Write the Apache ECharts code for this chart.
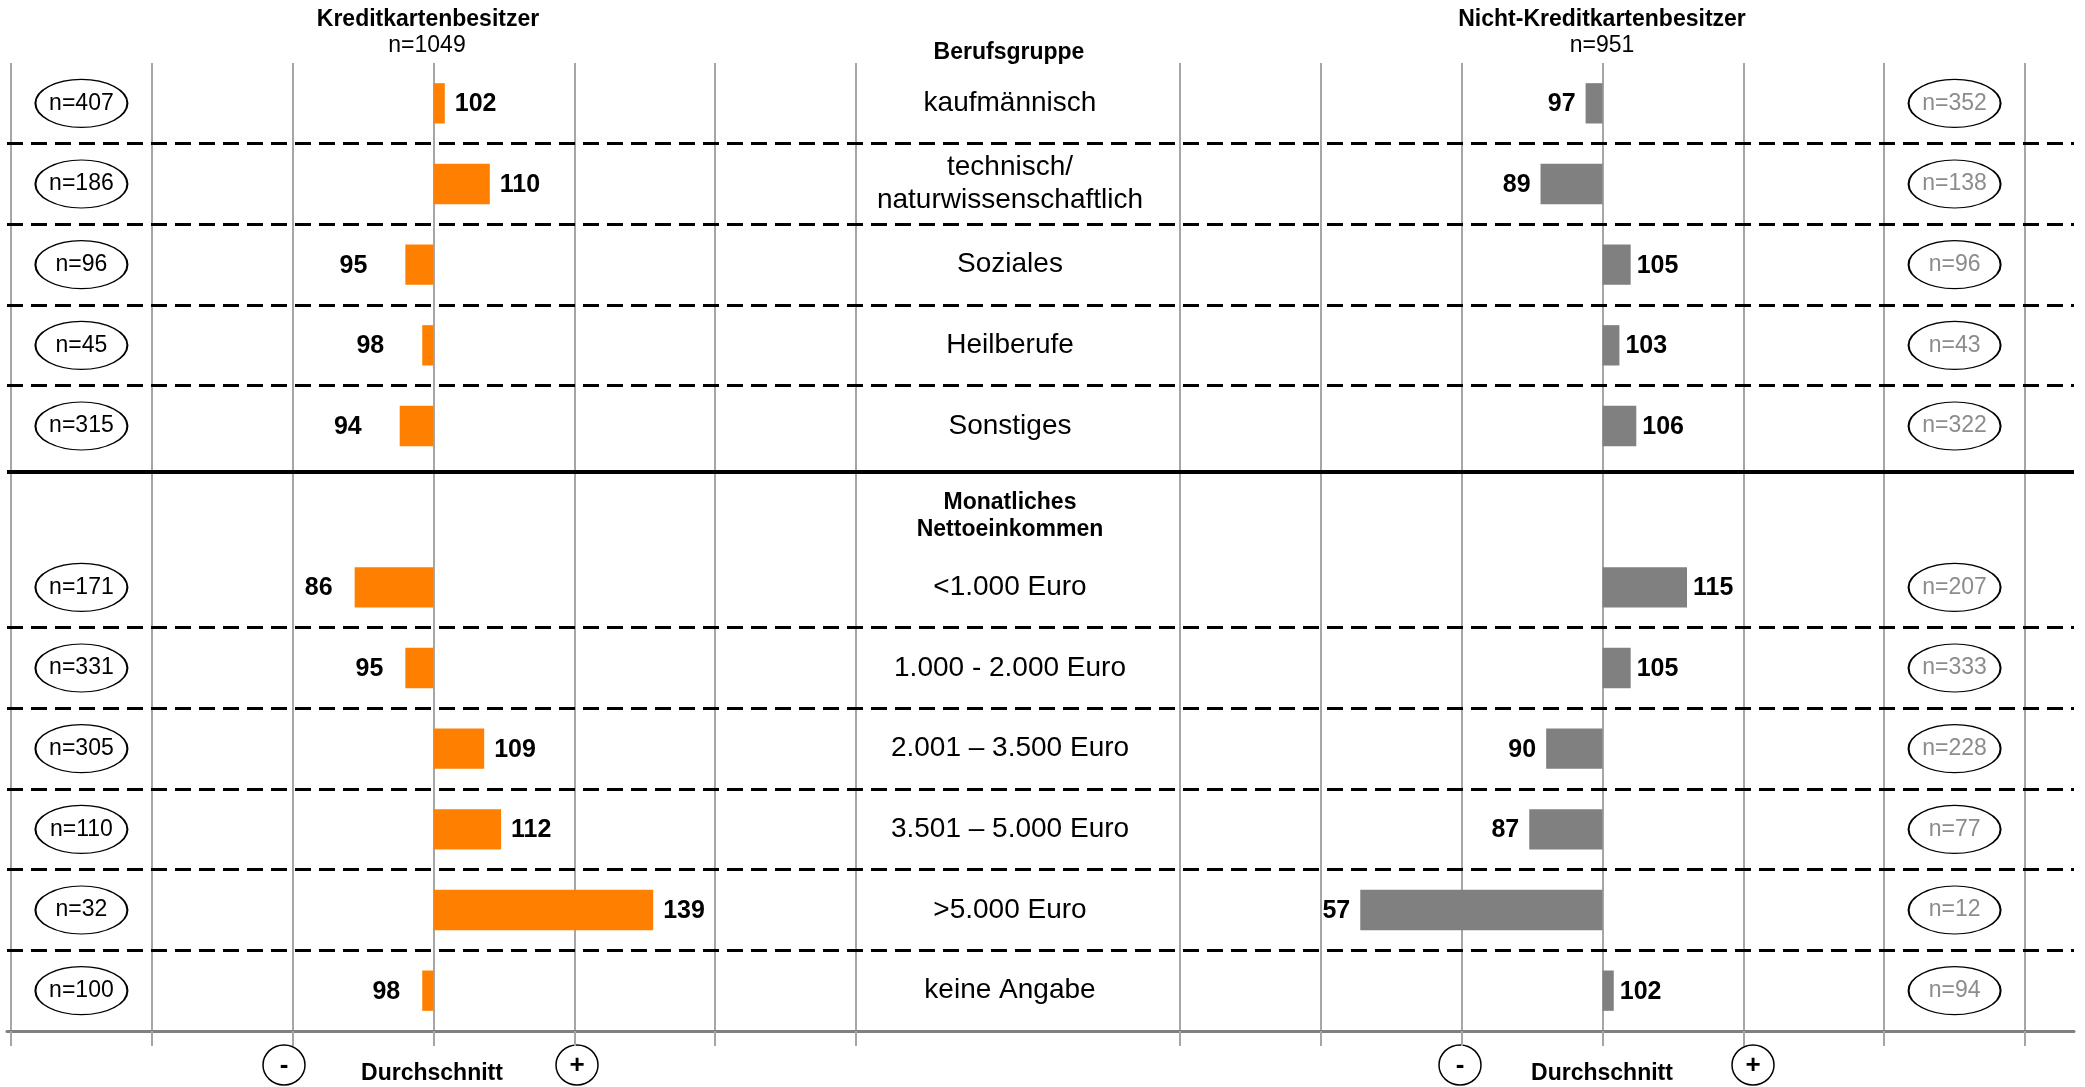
<!DOCTYPE html>
<html>
<head>
<meta charset="utf-8">
<title>Kreditkartenbesitzer – Berufsgruppe und Nettoeinkommen</title>
<script src="https://cdn.jsdelivr.net/npm/echarts@6/dist/echarts.min.js"></script>
<style>
  html, body { margin: 0; padding: 0; background: #ffffff; }
  #chart { width: 2085px; height: 1087px; }
</style>
</head>
<body>
<div id="chart"></div>
<script>
// Row categories (index 5 is the heading of the second block)
const rowLabels = [
  'kaufmännisch',
  'technisch/\nnaturwissenschaftlich',
  'Soziales',
  'Heilberufe',
  'Sonstiges',
  'Monatliches\nNettoeinkommen',
  '<1.000 Euro',
  '1.000 - 2.000 Euro',
  '2.001 – 3.500 Euro',
  '3.501 – 5.000 Euro',
  '>5.000 Euro',
  'keine Angabe'
];
const headingRow = 5;

// Index values (average = 100)
const ownersIndex    = [102, 110, 95, 98, 94, null, 86, 95, 109, 112, 139, 98];
const nonOwnersIndex = [97, 89, 105, 103, 106, null, 115, 105, 90, 87, 57, 102];

// Sample sizes per row
const ownersN    = [407, 186, 96, 45, 315, null, 171, 331, 305, 110, 32, 100];
const nonOwnersN = [352, 138, 96, 43, 322, null, 207, 333, 228, 77, 12, 94];

const ownersTotal = 1049;
const nonOwnersTotal = 951;
const averageIndex = 100;

// Index axis ticks
const axisMin = 25;
const axisMax = 175;
const axisStep = 25;

// Row separators: dashed within a block, solid between blocks
const dashedSeparators = [1, 2, 3, 4, 7, 8, 9, 10, 11];
const blockSeparator = 5.07;

const FONT = '"Liberation Sans", Arial, Helvetica, sans-serif';
const ORANGE = '#ff8000';
const GREY = '#808080';
const GRID_LINE = '#a6a6a6';

const chart = echarts.init(document.getElementById('chart'), null, { renderer: 'canvas' });

function toPoints(values) {
  const pts = [];
  values.forEach((v, i) => { if (v != null) pts.push([v, i]); });
  return pts;
}
function toBadges(counts, xPos) {
  const pts = [];
  counts.forEach((n, i) => { if (n != null) pts.push([xPos, i, n]); });
  return pts;
}

// Bars grow from the average line (100) towards the value, with the value beside the bar end.
// gaps: [above average, below average in first block, below average in second block]
function barRenderer(color, gaps) {
  return function (params, api) {
    const v = api.value(0);
    const row = api.value(1);
    const base = api.coord([averageIndex, row]);
    const end = api.coord([v, row]);
    const h = api.size([0, 1])[1] * 0.5;
    const up = v >= averageIndex;
    const gap = up ? gaps[0] : (row < headingRow ? gaps[1] : gaps[2]);
    return {
      type: 'group',
      children: [
        {
          type: 'rect',
          shape: { x: Math.min(base[0], end[0]), y: base[1] - h / 2, width: Math.abs(end[0] - base[0]), height: h },
          style: { fill: color }
        },
        {
          type: 'text',
          x: up ? end[0] + gap : end[0] - gap,
          y: base[1] + 1,
          style: {
            text: String(v),
            fill: '#000',
            fontSize: 25,
            fontWeight: 'bold',
            fontFamily: FONT,
            align: up ? 'left' : 'right',
            verticalAlign: 'middle'
          }
        }
      ]
    };
  };
}

function valueAxis(gridIndex) {
  return {
    type: 'value',
    gridIndex: gridIndex,
    min: axisMin,
    max: axisMax,
    interval: axisStep,
    axisLine: { show: false },
    axisLabel: { show: false },
    axisTick: { show: true, length: 15, lineStyle: { color: GRID_LINE, width: 2 } },
    splitLine: { show: true, lineStyle: { color: GRID_LINE, width: 2 } }
  };
}

function badgeSeries(axisIndex, counts, xPos, textColor) {
  return {
    type: 'scatter',
    xAxisIndex: axisIndex,
    yAxisIndex: axisIndex,
    silent: true,
    symbol: 'circle',
    symbolSize: [92, 48],
    data: toBadges(counts, xPos),
    itemStyle: { color: '#ffffff', borderColor: '#000000', borderWidth: 1.5, opacity: 1 },
    label: {
      show: true,
      position: 'inside',
      formatter: p => 'n=' + p.value[2],
      color: textColor,
      fontSize: 23,
      fontFamily: FONT
    },
    z: 3
  };
}

function textEl(text, x, y, size, bold) {
  return {
    type: 'text',
    x: x,
    y: y,
    silent: true,
    style: {
      text: text,
      fill: '#000',
      fontSize: size,
      fontWeight: bold ? 'bold' : 'normal',
      fontFamily: FONT,
      align: 'center',
      verticalAlign: 'middle',
      textAlign: 'center',
      textVerticalAlign: 'middle'
    }
  };
}
function signBadge(sign, cx, cy) {
  return [
    { type: 'ellipse', silent: true, shape: { cx: cx, cy: cy, rx: 21, ry: 20 },
      style: { fill: '#fff', stroke: '#000', lineWidth: 1.5 } },
    textEl(sign, cx, cy + 1, 26, true)
  ];
}

const option = {
  animation: false,
  backgroundColor: '#ffffff',
  textStyle: { fontFamily: FONT },
  grid: [
    { left: 11, width: 845, top: 63, height: 968, outerBoundsMode: 'none', containLabel: false },
    { left: 1180, width: 845, top: 63, height: 968, outerBoundsMode: 'none', containLabel: false },
    { left: 7, right: 11, top: 63, height: 968, outerBoundsMode: 'none', containLabel: false }
  ],
  xAxis: [
    valueAxis(0),
    valueAxis(1),
    {
      type: 'value', gridIndex: 2, min: 0, max: 1,
      axisLine: { show: true, onZero: false, lineStyle: { color: GREY, width: 3 } },
      axisTick: { show: false }, axisLabel: { show: false }, splitLine: { show: false }
    }
  ],
  yAxis: [
    {
      type: 'category', gridIndex: 0, data: rowLabels, inverse: true,
      axisLine: { show: false }, axisTick: { show: false }, axisLabel: { show: false }, splitLine: { show: false }
    },
    {
      type: 'category', gridIndex: 1, data: rowLabels, inverse: true,
      axisLine: { show: false }, axisTick: { show: false }, splitLine: { show: false },
      axisLabel: {
        show: true,
        interval: 0,
        margin: 170,
        align: 'center',
        color: '#000',
        fontSize: 28,
        lineHeight: 33,
        fontFamily: FONT,
        formatter: (value, idx) => idx === headingRow
          ? ['{gap| }'].concat(value.split('\n').map(s => '{h|' + s + '}')).join('\n')
          : value,
        rich: {
          gap: { fontSize: 10, lineHeight: 18 },
          h: { fontSize: 23, fontWeight: 'bold', lineHeight: 27, fontFamily: FONT, color: '#000' }
        }
      }
    },
    {
      type: 'value', gridIndex: 2, min: 0, max: rowLabels.length, inverse: true, show: false
    }
  ],
  series: [
    {
      type: 'custom', name: 'Kreditkartenbesitzer', xAxisIndex: 0, yAxisIndex: 0, silent: true,
      encode: { x: 0, y: 1 }, data: toPoints(ownersIndex),
      renderItem: barRenderer(ORANGE, [10, 38, 22]), z: 4
    },
    {
      type: 'custom', name: 'Nicht-Kreditkartenbesitzer', xAxisIndex: 1, yAxisIndex: 1, silent: true,
      encode: { x: 0, y: 1 }, data: toPoints(nonOwnersIndex),
      renderItem: barRenderer(GREY, [6, 10, 10]), z: 4
    },
    badgeSeries(0, ownersN, axisMin + axisStep / 2, '#000000'),
    badgeSeries(1, nonOwnersN, axisMax - axisStep / 2, '#8c8c8c'),
    {
      type: 'line', xAxisIndex: 2, yAxisIndex: 2, data: [], silent: true, z: 2,
      markLine: {
        silent: true,
        symbol: 'none',
        label: { show: false },
        data: dashedSeparators.map(y => ({ yAxis: y, lineStyle: { color: '#000', width: 3, type: [16, 8] } }))
          .concat([{ yAxis: blockSeparator, lineStyle: { color: '#000', width: 4, type: 'solid' } }])
      }
    }
  ],
  graphic: {
    elements: [
      textEl('Kreditkartenbesitzer', 428, 20, 23, true),
      textEl('n=' + ownersTotal, 427, 46, 23, false),
      textEl('Nicht-Kreditkartenbesitzer', 1602, 20, 23, true),
      textEl('n=' + nonOwnersTotal, 1602, 46, 23, false),
      textEl('Berufsgruppe', 1009, 53, 23, true),
      textEl('Durchschnitt', 432, 1074, 23, true),
      textEl('Durchschnitt', 1602, 1074, 23, true)
    ].concat(signBadge('-', 284, 1065), signBadge('+', 577, 1065),
             signBadge('-', 1460, 1065), signBadge('+', 1753, 1065))
  }
};

chart.setOption(option);
</script>
</body>
</html>
